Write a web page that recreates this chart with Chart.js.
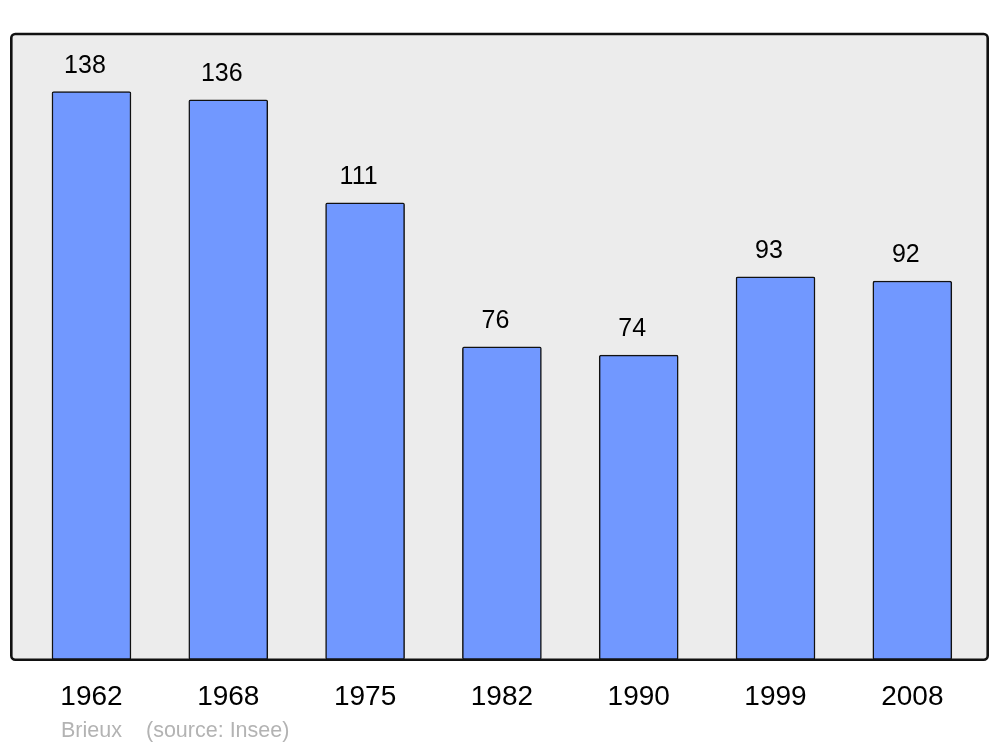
<!DOCTYPE html>
<html>
<head>
<meta charset="utf-8">
<script src="https://cdn.jsdelivr.net/npm/chart.js@4/dist/chart.umd.min.js"></script>
<style>
  html, body { margin: 0; padding: 0; background: #ffffff; }
  #wrap { width: 1000px; height: 747px; }
</style>
</head>
<body>
<div id="wrap"><canvas id="c" width="1000" height="747"></canvas></div>
<script>
const years = ['1962', '1968', '1975', '1982', '1990', '1999', '2008'];
const population = [138, 136, 111, 76, 74, 93, 92];
const footerPlace = 'Brieux';
const footerSource = '(source: Insee)';

const FONT = '"Liberation Sans", Arial, sans-serif';

const plotFrame = {
  id: 'plotFrame',
  beforeDatasetsDraw(chart) {
    const { ctx, chartArea: a } = chart;
    ctx.save();
    ctx.beginPath();
    ctx.roundRect(a.left, a.top, a.right - a.left, a.bottom - a.top, 4);
    ctx.fillStyle = '#ececec';
    ctx.fill();
    ctx.restore();
  },
  afterDatasetsDraw(chart) {
    const { ctx, chartArea: a } = chart;
    ctx.save();
    // value labels
    const meta = chart.getDatasetMeta(0);
    ctx.fillStyle = '#000000';
    ctx.font = '25px ' + FONT;
    ctx.textAlign = 'center';
    ctx.textBaseline = 'alphabetic';
    meta.data.forEach((el, i) => {
      ctx.fillText(String(population[i]), el.x - 6.5, el.y - 19);
    });
    // frame
    ctx.beginPath();
    ctx.roundRect(a.left, a.top, a.right - a.left, a.bottom - a.top, 4);
    ctx.lineWidth = 2.6;
    ctx.strokeStyle = '#111111';
    ctx.stroke();
    // footer
    ctx.fillStyle = '#b3b3b3';
    ctx.font = '21.5px ' + FONT;
    ctx.textAlign = 'left';
    ctx.fillText(footerPlace, 61, 737);
    ctx.fillText(footerSource, 146, 737);
    ctx.restore();
  }
};

new Chart(document.getElementById('c'), {
  type: 'bar',
  data: {
    datasets: [{
      data: population.map((v, i) => ({ x: i, y: v })),
      backgroundColor: '#7198ff',
      borderColor: '#111111',
      borderWidth: 1.5,
      borderRadius: 2,
      borderSkipped: false,
      barThickness: 79
    }]
  },
  options: {
    responsive: false,
    devicePixelRatio: 1,
    animation: false,
    layout: { padding: { left: 11.3, right: 12.3, top: 34, bottom: 0 } },
    plugins: { legend: { display: false }, tooltip: { enabled: false } },
    scales: {
      x: {
        type: 'linear',
        offset: false,
        min: -0.586,
        max: 6.551,
        grid: { display: false, drawTicks: false, offset: false },
        border: { display: false },
        afterFit(scale) { scale.height = 87.3; },
        ticks: {
          stepSize: 1,
          includeBounds: false,
          autoSkip: false,
          maxRotation: 0,
          padding: 20.5,
          color: '#000000',
          font: { family: FONT, size: 28 },
          callback: (v) => Number.isInteger(v) && v >= 0 && v < years.length ? years[v] : ''
        }
      },
      y: {
        display: false,
        min: 0,
        max: 152
      }
    }
  },
  plugins: [plotFrame]
});
</script>
</body>
</html>
